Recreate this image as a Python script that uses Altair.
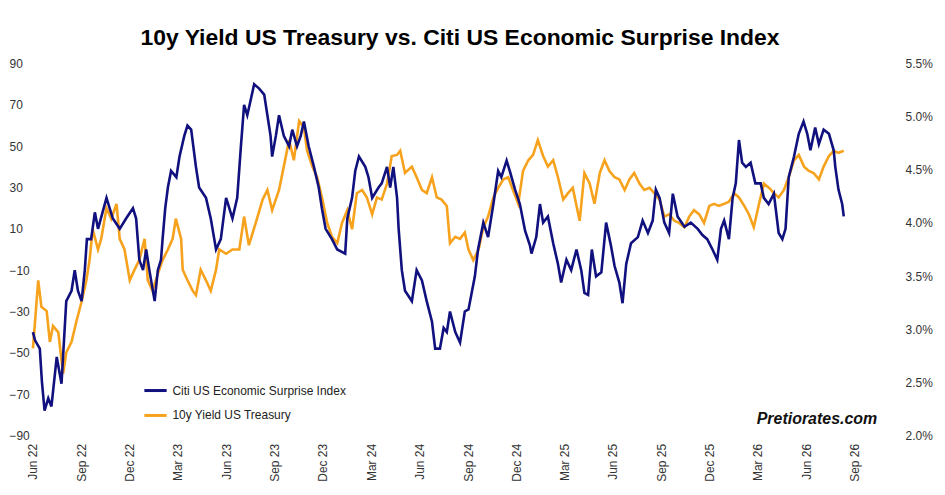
import altair as alt
import pandas as pd

START = pd.Timestamp("2022-06-01")

# Citi US Economic Surprise Index (days after 1 Jun 2022, index value)
cesi_day = [0, 4, 13, 17, 22, 29, 35, 45, 54, 63, 73, 79, 85, 92, 98, 102, 110, 117, 123, 139,
            151, 164, 176, 189, 195, 201, 208, 214, 220, 230, 236, 242, 245, 250, 255, 261, 271, 277,
            286, 292, 299, 308, 314, 327, 336, 346, 355, 365, 371, 377, 386, 393, 399, 405, 412, 418,
            427, 437, 443, 449, 452, 459, 465, 474, 484, 490, 499, 506, 512, 521, 531, 540, 546, 553,
            565, 575, 590, 594, 603, 609, 616, 628, 634, 641, 653, 659, 669, 675, 681, 688, 691, 697,
            703, 716, 725, 735, 744, 754, 760, 769, 776, 782, 788, 798, 807, 816, 823, 835, 841, 851,
            860, 870, 879, 885, 895, 901, 911, 920, 930, 939, 942, 951, 958, 964, 973, 983, 992, 998,
            1008, 1017, 1027, 1036, 1042, 1049, 1056, 1064, 1074, 1083, 1092, 1099, 1108, 1114, 1121,
            1130, 1143, 1152, 1162, 1171, 1177, 1184, 1193, 1202, 1209, 1218, 1231, 1243, 1256, 1265,
            1274, 1284, 1293, 1300, 1306, 1315, 1322, 1328, 1334, 1340, 1347, 1356, 1365, 1375, 1381,
            1390, 1400, 1409, 1416, 1422, 1428, 1438, 1447, 1456, 1463, 1469, 1478, 1485, 1494, 1504,
            1513, 1516, 1522, 1529, 1532]
cesi_val = [-40, -44, -48, -64, -78, -72, -76, -52, -65, -25, -20, -10, -20, -25, -10, 5, 5, 18, 10, 25,
            15, 10, 15, 20, 15, -5, -10, 0, -10, -25, -10, -5, 5, 20, 30, 38, 35, 45,
            55, 60, 58, 40, 30, 25, 15, 0, 5, 25, 20, 15, 25, 50, 70, 65, 73, 80,
            78, 75, 65, 55, 45, 55, 65, 55, 50, 58, 50, 55, 62, 50, 40, 30, 20, 10,
            5, 0, -2, 15, 25, 38, 45, 40, 35, 25, 30, 32, 40, 30, 40, 25, 10, -10,
            -20, -25, -10, -15, -25, -35, -48, -48, -38, -40, -30, -40, -45, -30, -29, -13, 0, 13,
            6, 22, 38, 35, 43, 38, 29, 22, 9, 2, -2, 6, 22, 13, 16, 3, -7, -16,
            -5, -10, 0, -10, -21, -22, 0, -13, -11, 13, 2, -8, -16, -26, -7,
            3, 6, 14, 8, 14, 29, 25, 13, 8, 27, 16, 11, 13, 10, 7,
            5, 0, -5, 10, 14, 5, 25, 32, 53, 42, 40, 42, 32, 32, 25,
            22, 27, 8, 5, 10, 35, 45, 56, 62, 56, 48, 59, 51, 58, 56,
            48, 40, 29, 22, 16]

# 10y US Treasury yield in percent
ust_day = [0, 4, 10, 16, 26, 32, 38, 48, 57, 63, 73, 82, 92, 101, 107, 113, 123, 129, 139, 148,
           158, 164, 173, 183, 192, 201, 211, 217, 226, 236, 245, 255, 264, 270, 280, 283, 292, 302,
           308, 317, 327, 336, 346, 352, 365, 377, 390, 399, 408, 421, 434, 443, 452, 465, 474, 484,
           493, 503, 512, 518, 528, 537, 547, 556, 565, 575, 584, 594, 603, 612, 622, 631, 641, 650,
           659, 669, 678, 688, 694, 703, 716, 725, 735, 744, 754, 763, 772, 782, 788, 798, 807, 816,
           823, 832, 842, 851, 860, 870, 879, 889, 898, 907, 917, 926, 936, 945, 954, 964, 973, 983,
           992, 1002, 1011, 1020, 1033, 1042, 1052, 1061, 1071, 1080, 1089, 1099, 1108, 1118, 1127,
           1136, 1146, 1155, 1165, 1174, 1184, 1193, 1202, 1212, 1221, 1231, 1240, 1249, 1259, 1268,
           1278, 1287, 1296, 1306, 1315, 1325, 1334, 1344, 1353, 1362, 1372, 1381, 1391, 1400, 1409,
           1419, 1428, 1438, 1447, 1457, 1466, 1475, 1485, 1494, 1504, 1513, 1522, 1532]
ust_val = [2.82, 3.07, 3.46, 3.21, 3.17, 2.88, 3.03, 2.97, 2.58, 2.78, 2.88, 3.07, 3.26, 3.46, 3.65, 3.94, 3.75, 3.85, 4.14, 4.04,
           4.18, 3.85, 3.75, 3.46, 3.56, 3.65, 3.85, 3.46, 3.36, 3.52, 3.65, 3.75, 3.85, 4.04, 3.85, 3.56, 3.46, 3.36,
           3.32, 3.56, 3.46, 3.36, 3.56, 3.75, 3.71, 3.75, 3.75, 4.06, 3.79, 4.00, 4.22, 4.31, 4.12, 4.31, 4.53, 4.78,
           4.59, 4.96, 4.90, 4.68, 4.53, 4.43, 4.22, 4.00, 3.87, 3.81, 4.00, 4.12, 3.94, 4.28, 4.31, 4.24, 4.08, 4.24,
           4.22, 4.37, 4.63, 4.64, 4.68, 4.47, 4.53, 4.43, 4.31, 4.28, 4.43, 4.24, 4.22, 4.16, 3.81, 3.87, 3.85, 3.91,
           3.75, 3.65, 3.75, 3.96, 4.06, 4.24, 4.33, 4.41, 4.43, 4.31, 4.18, 4.49, 4.59, 4.64, 4.78, 4.63, 4.53, 4.59,
           4.43, 4.22, 4.28, 4.33, 4.02, 4.47, 4.37, 4.18, 4.47, 4.59, 4.49, 4.43, 4.41, 4.31, 4.41,
           4.47, 4.37, 4.31, 4.33, 4.28, 4.22, 4.06, 4.08, 4.02, 4.00, 3.96, 4.06, 4.12, 4.08, 4.00,
           4.16, 4.18, 4.16, 4.18, 4.20, 4.28, 4.24, 4.16, 4.08, 3.96, 4.18, 4.37, 4.33, 4.28, 4.24,
           4.31, 4.43, 4.59, 4.64, 4.53, 4.49, 4.47, 4.41, 4.53, 4.63, 4.68, 4.66, 4.68]

x_ticks = pd.date_range("2022-06-01", "2026-09-01", freq="3MS")
y_left_ticks = list(range(-90, 91, 20))
y_right_ticks = [2.0, 2.5, 3.0, 3.5, 4.0, 4.5, 5.0, 5.5]

NAME_CESI = "Citi US Economic Surprise Index"
NAME_UST = "10y Yield US Treasury"
NAVY = "#10107e"
ORANGE = "#f7a21c"
FONT = "Liberation Sans"

cesi = pd.DataFrame({"date": START + pd.to_timedelta(cesi_day, unit="D"), "value": cesi_val, "series": NAME_CESI})
ust = pd.DataFrame({"date": START + pd.to_timedelta(ust_day, unit="D"), "value": ust_val, "series": NAME_UST})

x_enc = alt.X(
    "date:T",
    title=None,
    scale=alt.Scale(domain=["2022-06-01", "2026-11-01"]),
    axis=alt.Axis(values=[d.isoformat() for d in x_ticks], format="%b %y", labelAngle=-90,
                  domain=False, ticks=False, grid=False, labelFontSize=12, labelColor="#333",
                  labelFont=FONT, labelPadding=8),
)
color_enc = alt.Color(
    "series:N",
    scale=alt.Scale(domain=[NAME_CESI, NAME_UST], range=[NAVY, ORANGE]),
    legend=alt.Legend(title=None, orient="none", legendX=110, legendY=315, symbolType="stroke",
                      symbolSize=500, symbolStrokeWidth=3, labelFontSize=12, labelFont=FONT,
                      labelColor="#222", rowPadding=6, labelLimit=0),
)

left = alt.Chart(cesi).mark_line(strokeWidth=2.6).encode(
    x=x_enc,
    y=alt.Y("value:Q", title=None, scale=alt.Scale(domain=[-90, 90], nice=False, zero=False),
            axis=alt.Axis(values=y_left_ticks, domain=False, ticks=False, grid=False, labelAlign="left",
                          labelPadding=24, labelFontSize=12, labelFont=FONT, labelColor="#333")),
    color=color_enc,
)

right = alt.Chart(ust).mark_line(strokeWidth=2.6).encode(
    x=x_enc,
    y=alt.Y("value:Q", title=None, scale=alt.Scale(domain=[2.0, 5.5], nice=False, zero=False),
            axis=alt.Axis(orient="right", values=y_right_ticks, domain=False, ticks=False, grid=False,
                          labelExpr="format(datum.value, '.1f') + '%'", labelPadding=18,
                          labelFontSize=12, labelFont=FONT, labelColor="#333")),
    color=color_enc,
)

brand = alt.Chart(pd.DataFrame({"t": ["Pretiorates.com"]})).mark_text(
    font=FONT, fontSize=16, fontWeight="bold", fontStyle="italic", color="#111", align="right"
).encode(x=alt.value(847), y=alt.value(357), text="t:N")

chart = (
    alt.layer(right, left, brand)
    .resolve_scale(y="independent")
    .properties(
        width=857,
        height=373,
        autosize=alt.AutoSizeParams(type="none"),
        padding={"left": 25, "top": 55, "right": 50, "bottom": 50},
        title=alt.TitleParams("10y Yield US Treasury vs. Citi US Economic Surprise Index",
                              font=FONT, fontSize=23, fontWeight="bold", color="#000", offset=8),
    )
    .configure_view(stroke=None)
)

chart.save("out.html", embed_options={"renderer": "svg", "actions": False})
